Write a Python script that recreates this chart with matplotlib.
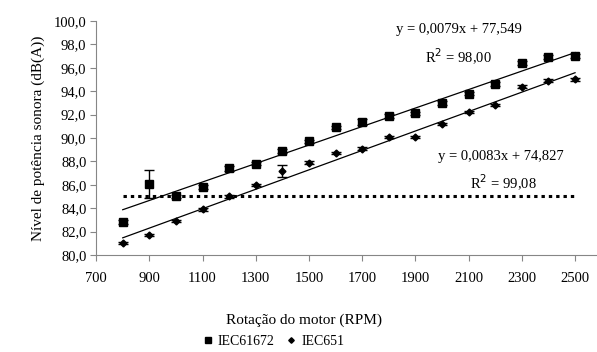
import matplotlib.pyplot as plt
import numpy as np

plt.rcParams['font.family'] = ['Liberation Serif', 'DejaVu Serif']

rpm = [800, 900, 1000, 1100, 1200, 1300, 1400, 1500, 1600,
       1700, 1800, 1900, 2000, 2100, 2200, 2300, 2400, 2500]

iec61672 = [82.8, 86.1, 85.0, 85.8, 87.4, 87.8, 88.9, 89.7, 90.9,
            91.4, 91.9, 92.1, 93.0, 93.8, 94.6, 96.4, 96.9, 97.0]
iec61672_err = [0.15, 1.2, 0.15, 0.15, 0.2, 0.15, 0.15, 0.15, 0.15,
                0.25, 0.15, 0.15, 0.15, 0.15, 0.15, 0.15, 0.15, 0.15]

iec651 = [81.0, 81.7, 82.9, 83.9, 85.0, 86.0, 87.2, 87.9, 88.7,
          89.1, 90.1, 90.1, 91.2, 92.2, 92.8, 94.4, 94.9, 95.0]
iec651_err = [0.1, 0.1, 0.1, 0.1, 0.15, 0.1, 0.5, 0.1, 0.1,
              0.1, 0.1, 0.1, 0.1, 0.1, 0.1, 0.1, 0.1, 0.1]

# linear fits (slope, intercept, R2)
fit61672 = (0.0079, 77.549, '98,00')
fit651 = (0.0083, 74.827, '99,08')
limit = 85.0

fig = plt.figure(figsize=(5.97, 3.52), dpi=100)
ax = fig.add_axes([0.161, 0.2756, 0.837, 0.6648])

ax.errorbar(rpm, iec61672, yerr=iec61672_err, fmt='s', color='black',
            ms=5.8, capsize=3.5, elinewidth=1, capthick=1, label='IEC61672')
ax.errorbar(rpm, iec651, yerr=iec651_err, fmt='D', color='black',
            ms=3.5, capsize=3.5, elinewidth=1, capthick=1, label='IEC651')

xs = np.array([rpm[0], rpm[-1]])
for a, b, _ in (fit61672, fit651):
    ax.plot(xs, a * xs + b, color='black', lw=0.9)

ax.plot(xs, [limit, limit], color='black', lw=2.2, linestyle=(0, (1.1, 1.3)))

ax.text(2065, 99.3, 'y = 0,0079x + 77,549', ha='center', va='center', fontsize=10.5)
ax.text(2063, 96.9, 'R$^2$ = ' + fit61672[2], ha='center', va='center', fontsize=10.5)
ax.text(2222, 88.4, 'y = 0,0083x + 74,827', ha='center', va='center', fontsize=10.5)
ax.text(2230, 86.15, 'R$^2$ = ' + fit651[2], ha='center', va='center', fontsize=10.5)

ax.set_xlim(700, 2578)
ax.set_ylim(80, 100)
ax.set_xticks(range(700, 2600, 200))
ax.set_yticks(np.arange(80, 100.1, 2))
ax.set_yticklabels([f'{v:.1f}'.replace('.', ',') for v in np.arange(80, 100.1, 2)])

for s in ('top', 'right'):
    ax.spines[s].set_visible(False)
for s in ('left', 'bottom'):
    ax.spines[s].set_color('#868686')
ax.tick_params(axis='both', direction='out', length=4, color='#868686',
               labelsize=10.5, pad=3)
ax.tick_params(axis='x', pad=8)

ax.set_xlabel('Rotação do motor (RPM)', fontsize=11)
ax.xaxis.set_label_coords(0.417, -0.25)
ax.set_ylabel('Nível de potência sonora (dB(A))', fontsize=11, labelpad=6)

handles, labels = ax.get_legend_handles_labels()
handles = [h[0] for h in handles]
fig.legend(handles, labels, loc='center', bbox_to_anchor=(0.459, 0.031),
           ncol=2, frameon=False, fontsize=10, handlelength=0.6,
           handletextpad=0.4, columnspacing=0.9, markerscale=0.8)

fig.savefig('out.png', dpi=100)
